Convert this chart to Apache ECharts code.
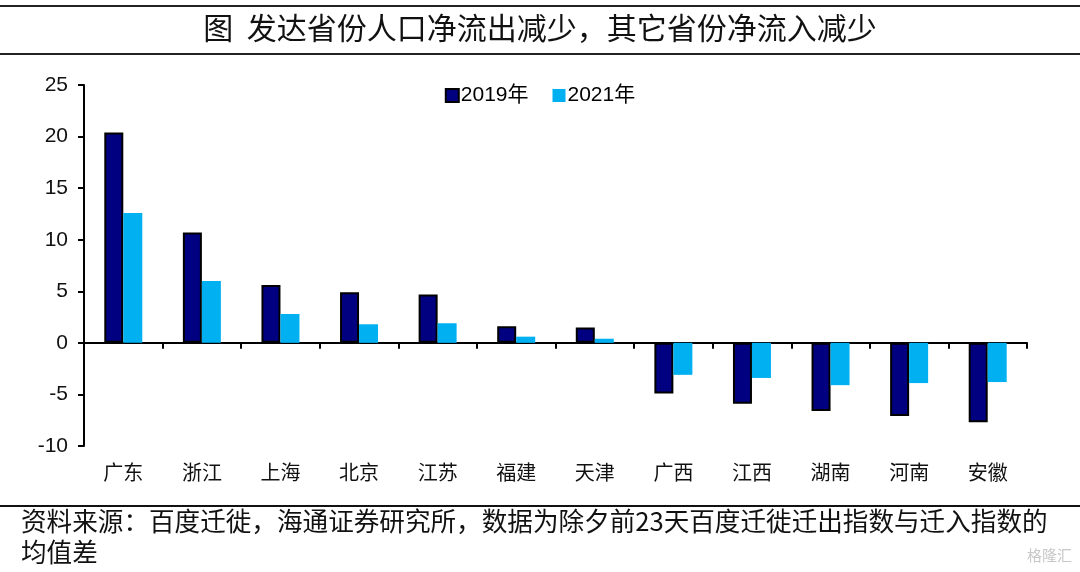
<!DOCTYPE html>
<html>
<head>
<meta charset="utf-8">
<script src="https://cdn.jsdelivr.net/npm/echarts@6/dist/echarts.min.js"></script>
<style>html,body{margin:0;padding:0;background:#fff;}#c{width:1080px;height:572px;}</style>
</head>
<body>
<div id="c"></div>
<script>
const categories = ['广东','浙江','上海','北京','江苏','福建','天津','广西','江西','湖南','河南','安徽'];
const seriesNames = ['2019年','2021年'];
const values2019 = [20.4, 10.7, 5.6, 4.9, 4.7, 1.6, 1.5, -4.9, -5.9, -6.6, -7.1, -7.7];
const values2021 = [12.6, 6.0, 2.8, 1.8, 1.9, 0.6, 0.4, -3.1, -3.4, -4.1, -3.9, -3.8];
const yTicks = {min: -10, max: 25, interval: 5};
const titleText = '图  发达省份人口净流出减少，其它省份净流入减少';
const sourceLine1 = '资料来源：百度迁徙，海通证券研究所，数据为除夕前23天百度迁徙迁出指数与迁入指数的';
const sourceLine2 = '均值差';
const watermark = '格隆汇';

const chart = echarts.init(document.getElementById('c'));
const cjk = '"Noto Sans CJK SC", sans-serif';
chart.setOption({
  animation: false,
  backgroundColor: '#fff',
  graphic: [
    {type:'rect', shape:{x:0,y:5,width:1080,height:2}, style:{fill:'#222'}},
    {type:'rect', shape:{x:0,y:53,width:1080,height:2}, style:{fill:'#222'}},
    {type:'rect', shape:{x:0,y:505,width:1080,height:2}, style:{fill:'#111'}},
    {type:'text', left:'center', top:13, style:{text:titleText, font:'30px ' + cjk, fill:'#111'}},
    {type:'text', left:21, top:508, style:{text:sourceLine1, font:'25.6px ' + cjk, fill:'#111'}},
    {type:'text', left:21, top:539, style:{text:sourceLine2, font:'25.6px ' + cjk, fill:'#111'}},
    {type:'text', right:8, top:548, style:{text:watermark, font:'15px ' + cjk, fill:'#c8c8c8'}}
  ],
  legend: {
    top: 80, left: 'center',
    itemWidth: 13, itemHeight: 13, itemGap: 24,
    icon: 'rect',
    textStyle: {fontSize: 21, fontFamily: 'Arial, "Liberation Sans", ' + cjk, color: '#000', padding:[0,0,0,-3]},
    data: seriesNames
  },
  grid: {left: 84, right: 53, top: 85, bottom: 126, containLabel: false, outerBoundsMode: 'none'},
  xAxis: {
    type: 'category',
    data: categories,
    axisLine: {onZero: true, lineStyle: {color: '#000', width: 2}},
    axisTick: {show: true, inside: false, length: 6, lineStyle: {color: '#000', width: 2}},
    axisLabel: {margin: 16, fontSize: 20, fontFamily: cjk, color: '#111'},
    splitLine: {show: false}
  },
  yAxis: {
    type: 'value',
    min: yTicks.min, max: yTicks.max, interval: yTicks.interval,
    axisLine: {show: true, lineStyle: {color: '#000', width: 2}},
    axisTick: {show: true, inside: false, length: 6, lineStyle: {color: '#000', width: 2}},
    axisLabel: {fontSize: 21, fontFamily: 'Arial, "Liberation Sans"', color: '#111', margin: 16},
    splitLine: {show: false}
  },
  series: [
    {name: seriesNames[0], type: 'bar', data: values2019, barWidth: 19, barGap: '0%',
     itemStyle: {color: '#000080', borderColor: '#000', borderWidth: 2}},
    {name: seriesNames[1], type: 'bar', data: values2021, barWidth: 19, barGap: '0%',
     itemStyle: {color: '#00B0F0'}}
  ]
});
</script>
</body>
</html>
